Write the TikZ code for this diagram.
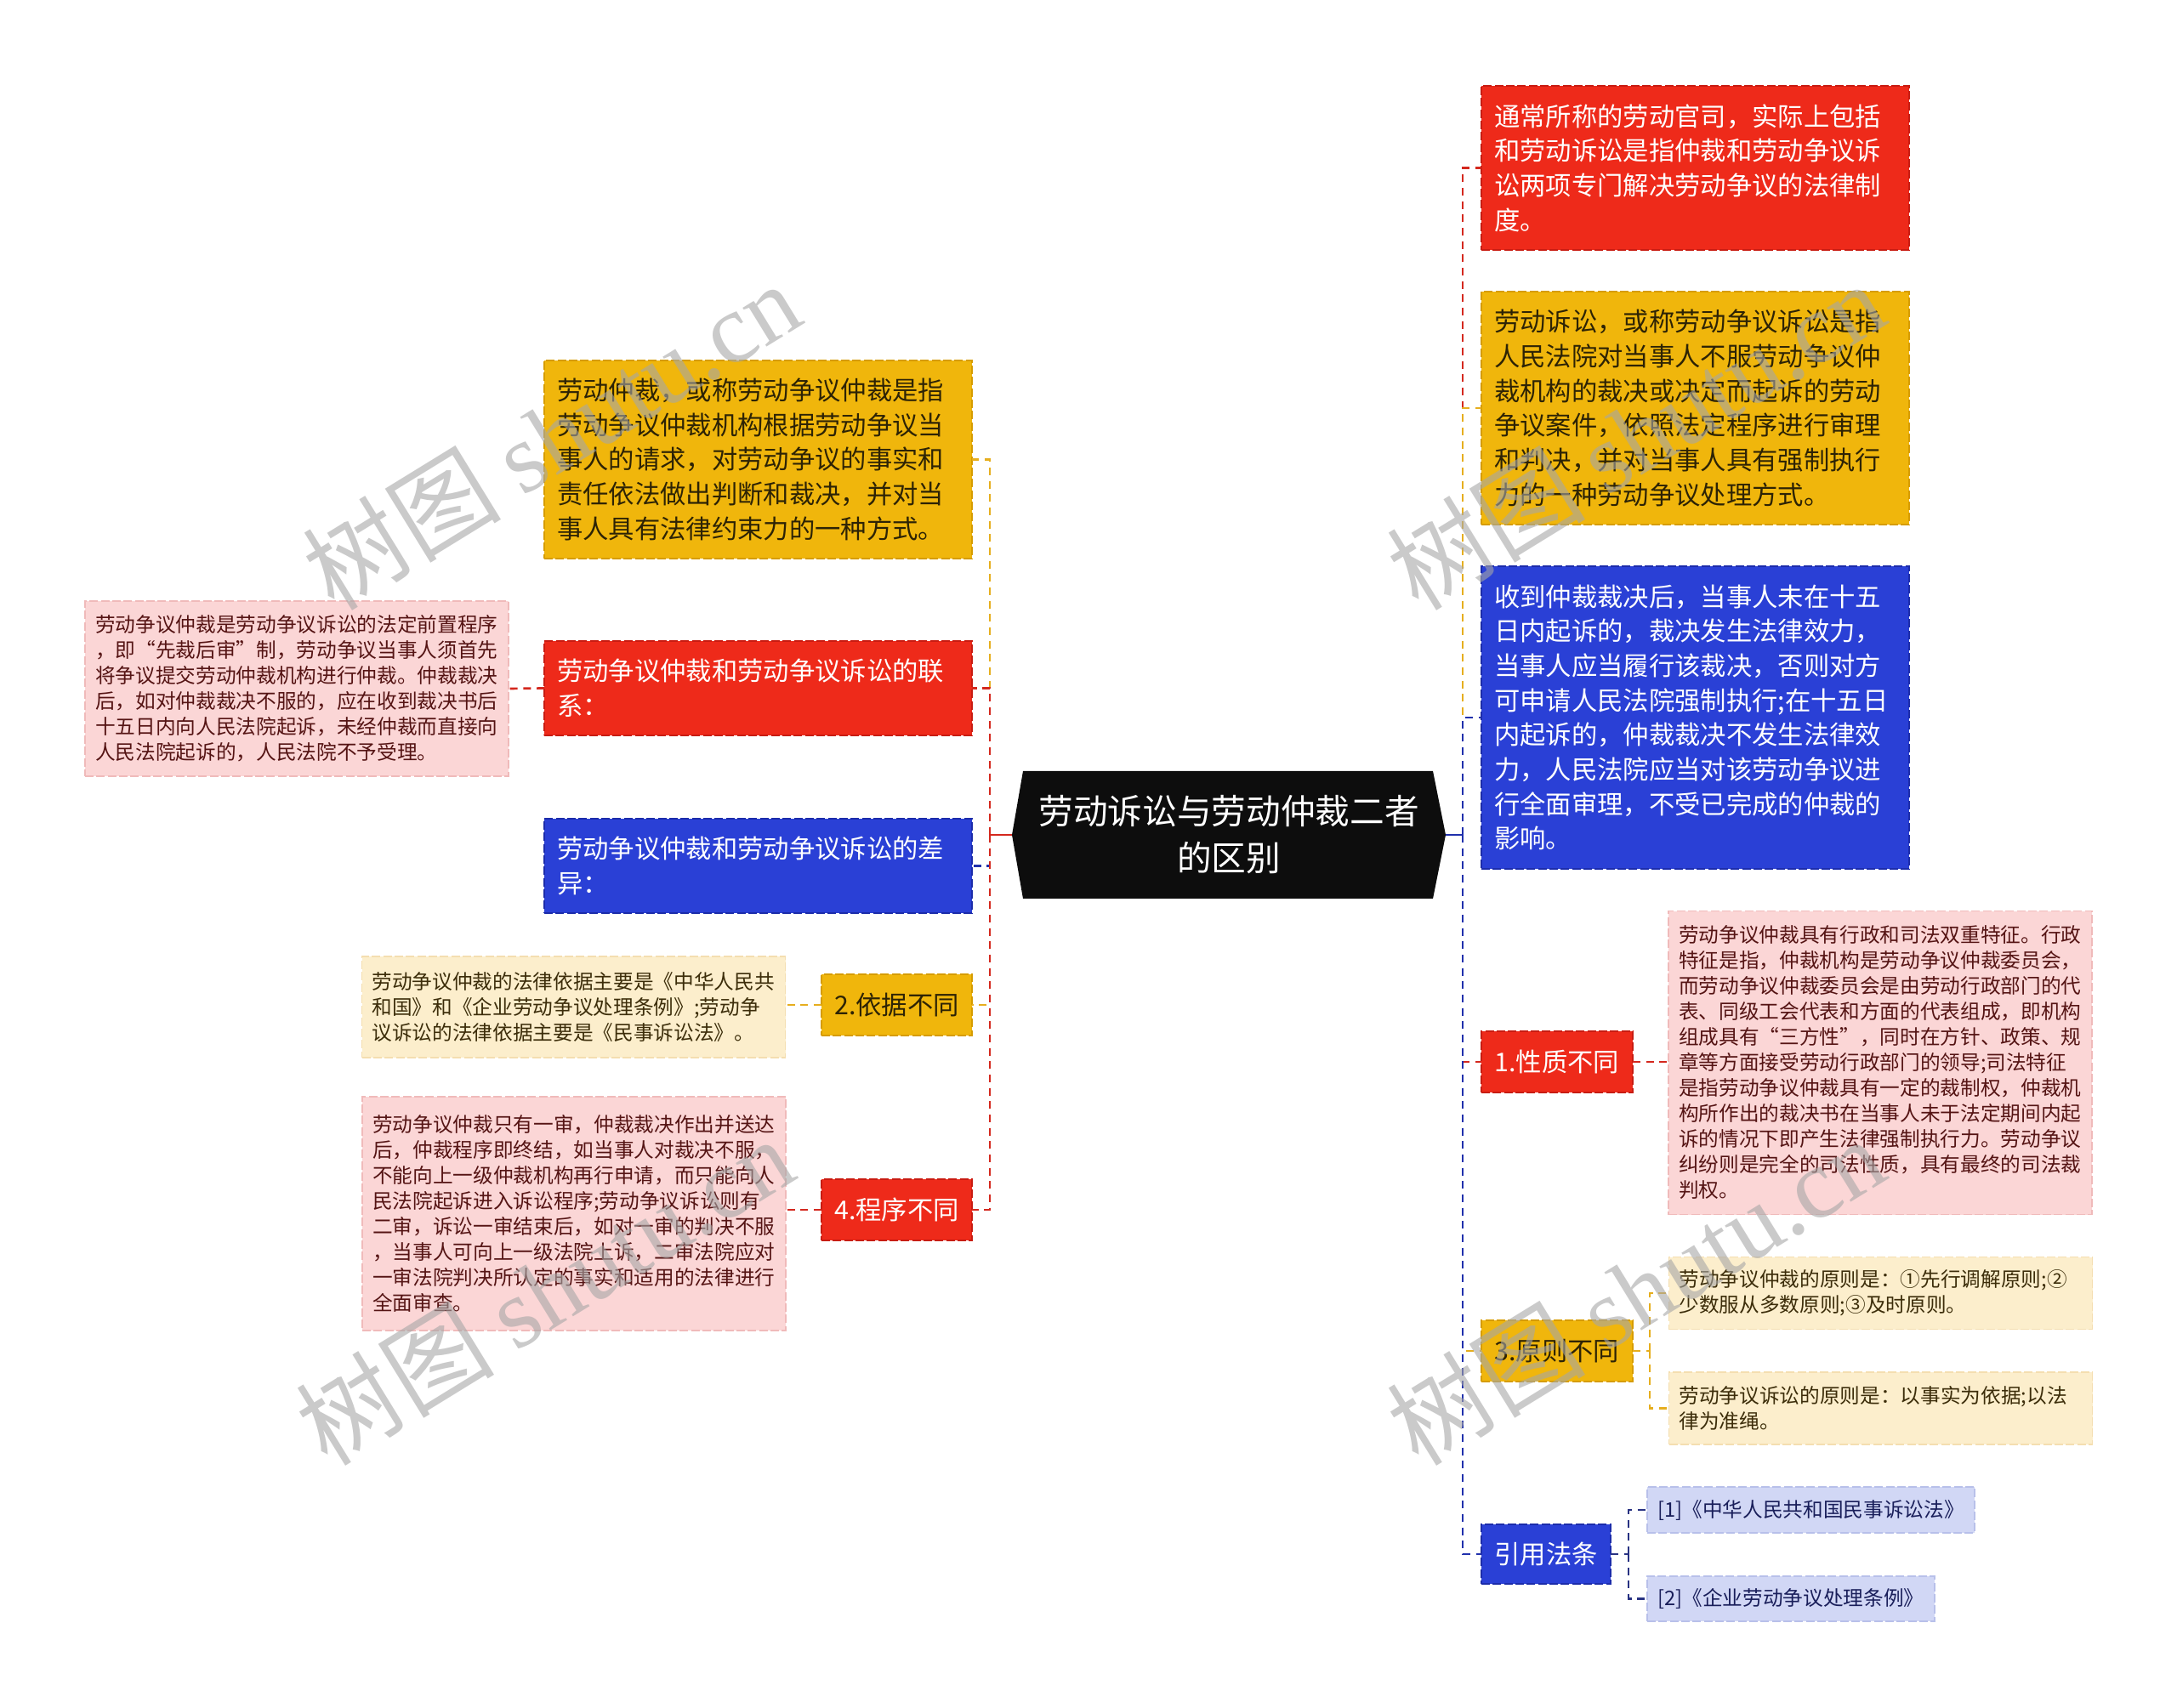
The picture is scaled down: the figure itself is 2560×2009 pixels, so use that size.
\documentclass[tikz,border=0pt]{standalone}
\usepackage{fontspec}
\setmainfont{Noto Sans CJK SC}
\newfontfamily\wmlatin{Liberation Serif}
\usetikzlibrary{calc}
\definecolor{cY}{RGB}{240,182,12}
\definecolor{cYd}{RGB}{214,156,0}
\definecolor{cYt}{RGB}{45,35,5}
\definecolor{cR}{RGB}{238,42,26}
\definecolor{cRd}{RGB}{200,28,18}
\definecolor{cB}{RGB}{42,64,214}
\definecolor{cBd}{RGB}{28,44,170}
\definecolor{cP}{RGB}{251,214,214}
\definecolor{cPd}{RGB}{240,186,186}
\definecolor{cPt}{RGB}{85,20,20}
\definecolor{cLY}{RGB}{252,238,204}
\definecolor{cLYd}{RGB}{244,222,176}
\definecolor{cLYt}{RGB}{60,45,10}
\definecolor{cLV}{RGB}{209,215,245}
\definecolor{cLVd}{RGB}{184,192,234}
\definecolor{cLVt}{RGB}{25,30,90}
\definecolor{lnY}{RGB}{230,174,30}
\definecolor{lnR}{RGB}{212,40,30}
\definecolor{lnB}{RGB}{32,48,172}
\definecolor{lnN}{RGB}{40,50,130}
\definecolor{cC}{RGB}{13,13,13}
\begin{document}
\begin{tikzpicture}[x=0.3pt,y=-0.3pt,
  box/.style={draw, dash pattern=on 3pt off 1pt, line width=0.5pt, inner ysep=0pt, anchor=center, outer sep=0pt},
  mainbox/.style={box, align=left, inner xsep=4.5pt, font=\fontsize{9.1pt}{12.2pt}\selectfont, text width=141.9pt, minimum width=150.9pt},
  subbox/.style={box, align=left, inner xsep=3.6pt, font=\fontsize{7.1pt}{9pt}\selectfont, text width=142.2pt, minimum width=149.4pt},
  lbl/.style={box, align=center, inner xsep=4.5pt, font=\fontsize{9.1pt}{12.2pt}\selectfont, minimum height=21.6pt},
  refbox/.style={box, align=left, inner xsep=3.6pt, font=\fontsize{7.1pt}{9pt}\selectfont, fill=cLV, draw=cLVd, text=cLVt},
  fY/.style={fill=cY, draw=cYd, text=cYt},
  fR/.style={fill=cR, draw=cRd, text=white},
  fB/.style={fill=cB, draw=cBd, text=white},
  fP/.style={fill=cP, draw=cPd, text=cPt},
  fLY/.style={fill=cLY, draw=cLYd, text=cLYt},
  conn/.style={line width=0.8pt, dash pattern=on 2.7pt off 2pt},
  stub/.style={line width=0.8pt},
  wm/.style={text=black!35, text opacity=0.6, rotate=31.6, anchor=center, inner sep=0pt}
]
\useasboundingbox (0,0) rectangle (2560,2009);

% ---------- centre ----------
\fill[cC] (1190,982) -- (1203,907) -- (1685,907) -- (1700,982) -- (1685,1057) -- (1203,1057) -- cycle;
\node[text=white, align=center, font=\fontsize{12.2pt}{16.5pt}\selectfont, inner sep=0pt] (c) at (1445,982) {劳动诉讼与劳动仲裁二者\\的区别};
\coordinate (cl) at (1190,982);
\coordinate (cr) at (1700,982);
\coordinate (L) at (1164,982);
\coordinate (R) at (1720,982);

% ---------- left side ----------
\node[mainbox, fY, minimum height=69.9pt] (b1) at (891.5,540.5) {劳动仲裁，或称劳动争议仲裁是指\\劳动争议仲裁机构根据劳动争议当\\事人的请求，对劳动争议的事实和\\责任依法做出判断和裁决，并对当\\事人具有法律约束力的一种方式。};
\node[mainbox, fR, minimum height=33.3pt] (b2) at (891.5,809.5) {劳动争议仲裁和劳动争议诉讼的联\\系：};
\node[mainbox, fB, minimum height=33.3pt] (b3) at (891.5,1018.5) {劳动争议仲裁和劳动争议诉讼的差\\异：};
\node[subbox, fP, minimum height=61.8pt] (b4) at (349,810) {劳动争议仲裁是劳动争议诉讼的法定前置程序\\，即“先裁后审”制，劳动争议当事人须首先\\将争议提交劳动仲裁机构进行仲裁。仲裁裁决\\后，如对仲裁裁决不服的，应在收到裁决书后\\十五日内向人民法院起诉，未经仲裁而直接向\\人民法院起诉的，人民法院不予受理。};
\node[lbl, fY, minimum width=53.1pt] (b6) at (1054.5,1182) {2.依据不同};
\node[subbox, fLY, minimum height=35.7pt] (b5) at (674.5,1184.5) {劳动争议仲裁的法律依据主要是《中华人民共\\和国》和《企业劳动争议处理条例》;劳动争\\议诉讼的法律依据主要是《民事诉讼法》。};
\node[lbl, fR, minimum width=53.1pt] (b7) at (1054.5,1423) {4.程序不同};
\node[subbox, fP, minimum height=82.5pt] (b8) at (675,1427.5) {劳动争议仲裁只有一审，仲裁裁决作出并送达\\后，仲裁程序即终结，如当事人对裁决不服，\\不能向上一级仲裁机构再行申请，而只能向人\\民法院起诉进入诉讼程序;劳动争议诉讼则有\\二审，诉讼一审结束后，如对一审的判决不服\\，当事人可向上一级法院上诉，二审法院应对\\一审法院判决所认定的事实和适用的法律进行\\全面审查。};

% ---------- right side ----------
\node[mainbox, fR, minimum height=57.9pt] (b9) at (1993.5,197.5) {通常所称的劳动官司，实际上包括\\和劳动诉讼是指仲裁和劳动争议诉\\讼两项专门解决劳动争议的法律制\\度。};
\node[mainbox, fY, minimum height=82.2pt] (b10) at (1993.5,480) {劳动诉讼，或称劳动争议诉讼是指\\人民法院对当事人不服劳动争议仲\\裁机构的裁决或决定而起诉的劳动\\争议案件，依照法定程序进行审理\\和判决，并对当事人具有强制执行\\力的一种劳动争议处理方式。};
\node[mainbox, fB, minimum height=106.8pt] (b11) at (1993.5,844) {收到仲裁裁决后，当事人未在十五\\日内起诉的，裁决发生法律效力，\\当事人应当履行该裁决，否则对方\\可申请人民法院强制执行;在十五日\\内起诉的，仲裁裁决不发生法律效\\力，人民法院应当对该劳动争议进\\行全面审理，不受已完成的仲裁的\\影响。};
\node[lbl, fR, minimum width=53.4pt] (b12) at (1831,1249) {1.性质不同};
\node[subbox, fP, minimum height=107.1pt] (b13) at (2211,1250) {劳动争议仲裁具有行政和司法双重特征。行政\\特征是指，仲裁机构是劳动争议仲裁委员会，\\而劳动争议仲裁委员会是由劳动行政部门的代\\表、同级工会代表和方面的代表组成，即机构\\组成具有“三方性”，同时在方针、政策、规\\章等方面接受劳动行政部门的领导;司法特征\\是指劳动争议仲裁具有一定的裁制权，仲裁机\\构所作出的裁决书在当事人未于法定期间内起\\诉的情况下即产生法律强制执行力。劳动争议\\纠纷则是完全的司法性质，具有最终的司法裁\\判权。};
\node[lbl, fY, minimum width=53.4pt] (b14) at (1831,1589) {3.原则不同};
\node[subbox, fLY, minimum height=25.5pt] (b15) at (2211.5,1521) {劳动争议仲裁的原则是：①先行调解原则;②\\少数服从多数原则;③及时原则。};
\node[subbox, fLY, minimum height=25.5pt] (b16) at (2211.5,1656.5) {劳动争议诉讼的原则是：以事实为依据;以法\\律为准绳。};
\node[lbl, fB, minimum width=45.6pt, minimum height=21pt] (b17) at (1818,1828) {引用法条};
\node[refbox, minimum width=115.5pt, minimum height=16.2pt] (b18) at (2129.5,1776) {[1]《中华人民共和国民事诉讼法》};
\node[refbox, minimum width=101.4pt, minimum height=15.9pt] (b19) at (2106,1880.5) {[2]《企业劳动争议处理条例》};

% ---------- connectors: left ----------
\draw[conn, lnY] (L) |- (b1.east);
\draw[conn, lnR] (L) |- (b2.east);
\draw[conn, lnB] (L) |- (b3.east);
\draw[conn, lnY] (L) |- (b6.east);
\draw[conn, lnR] (L) |- (b7.east);
\draw[stub, lnR] (cl) -- (L);
\draw[stub, lnR] ($(L)+(0,-9)$) -- ($(L)+(0,9)$);

\draw[conn, lnR] (b2.west) -- (b4.east);
\draw[conn, lnY] (b6.west) -- (b6.west -| b5.east);
\draw[conn, lnR] (b7.west) -- (b7.west -| b8.east);

% ---------- connectors: right ----------
\draw[conn, lnR] (R) |- (b9.west);
\draw[conn, lnY] (R) |- (b10.west);
\draw[conn, lnB] (R) |- (b11.west);
\draw[conn, lnR] (R) |- (b12.west);
\draw[conn, lnY] (R) |- (b14.west);
\draw[conn, lnB] (R) |- (b17.west);
\draw[stub, lnB] (cr) -- (R);
\draw[stub, lnB] ($(R)+(0,-9)$) -- ($(R)+(0,9)$);

\draw[conn, lnR] (b12.east) -- (b12.east -| b13.west);
\coordinate (R3) at (1940,1589);
\draw[conn, lnY] (b14.east) -- (R3);
\draw[conn, lnY] (R3) |- (b15.west);
\draw[conn, lnY] (R3) |- (b16.west);
\coordinate (R4) at (1915,1828);
\draw[conn, lnN] (b17.east) -- (R4);
\draw[conn, lnN] (R4) |- (b18.west);
\draw[conn, lnN] (R4) |- (b19.west);

% ---------- watermarks ----------
\node[wm] (w1) at (648,512) {\fontsize{35pt}{35pt}\selectfont 树图 {\wmlatin shutu.cn}};
\node[wm] (w2) at (640,1518) {\fontsize{35pt}{35pt}\selectfont 树图 {\wmlatin shutu.cn}};
\node[wm] (w3) at (1923,512) {\fontsize{35pt}{35pt}\selectfont 树图 {\wmlatin shutu.cn}};
\node[wm] (w4) at (1923,1518) {\fontsize{35pt}{35pt}\selectfont 树图 {\wmlatin shutu.cn}};
\end{tikzpicture}
\end{document}
